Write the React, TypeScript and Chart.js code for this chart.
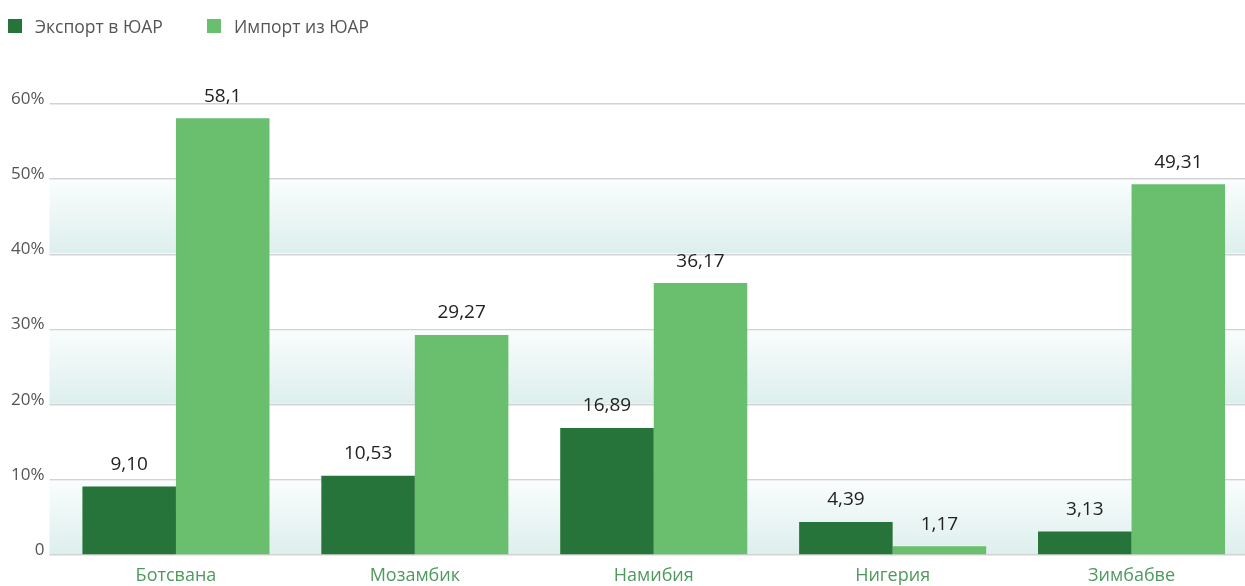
import React, { useEffect, useRef } from "react";
import { Chart, registerables } from "chart.js";

Chart.register(...registerables);

const categories = ["Ботсвана", "Мозамбик", "Намибия", "Нигерия", "Зимбабве"];
const exportValues = [9.1, 10.53, 16.89, 4.39, 3.13];
const importValues = [58.1, 29.27, 36.17, 1.17, 49.31];
const exportLabels = ["9,10", "10,53", "16,89", "4,39", "3,13"];
const importLabels = ["58,1", "29,27", "36,17", "1,17", "49,31"];
const seriesNames = ["Экспорт в ЮАР", "Импорт из ЮАР"];
const bandRanges = [
  [0, 10],
  [20, 30],
  [40, 50],
];

const DARK = "#27743a";
const LIGHT = "#6abf6f";
const FONT = "'Open Sans', sans-serif";

export default function App() {
  const ref = useRef<HTMLCanvasElement | null>(null);

  useEffect(() => {
    document.body.style.margin = "0";
    const canvas = ref.current;
    if (!canvas) return;

    const bandsPlugin = {
      id: "bands",
      beforeDatasetsDraw(chart: any) {
        const { ctx, chartArea } = chart;
        const y = chart.scales.y;
        ctx.save();
        bandRanges.forEach(([lo, hi]) => {
          const top = y.getPixelForValue(hi);
          const bottom = y.getPixelForValue(lo);
          const g = ctx.createLinearGradient(0, top, 0, bottom);
          g.addColorStop(0, "rgba(250,253,253,1)");
          g.addColorStop(1, "rgba(220,239,237,1)");
          ctx.fillStyle = g;
          ctx.fillRect(chartArea.left - 7, top + 1, chartArea.right - chartArea.left + 7, bottom - top - 2);
        });
        ctx.restore();
      },
    };

    const labelsPlugin = {
      id: "valueLabels",
      afterDatasetsDraw(chart: any) {
        const { ctx } = chart;
        const texts = [exportLabels, importLabels];
        ctx.save();
        ctx.font = `19px ${FONT}`;
        ctx.fillStyle = "#222";
        ctx.textAlign = "center";
        ctx.textBaseline = "middle";
        chart.data.datasets.forEach((_: any, di: number) => {
          const meta = chart.getDatasetMeta(di);
          meta.data.forEach((bar: any, i: number) => {
            ctx.fillText(texts[di][i], bar.x, bar.y - 22);
          });
        });
        ctx.restore();
      },
    };

    const chart = new Chart(canvas, {
      type: "bar",
      data: {
        labels: categories,
        datasets: [
          {
            label: seriesNames[0],
            data: exportValues,
            backgroundColor: DARK,
            categoryPercentage: 0.783,
            barPercentage: 1,
          },
          {
            label: seriesNames[1],
            data: importValues,
            backgroundColor: LIGHT,
            categoryPercentage: 0.783,
            barPercentage: 1,
          },
        ],
      },
      options: {
        responsive: false,
        animation: false,
        layout: { padding: { top: 104, bottom: 1, left: 0, right: 0 } },
        plugins: {
          legend: { display: false },
          tooltip: { enabled: false },
        },
        scales: {
          x: {
            afterFit: (s: any) => {
              s.height = 30;
            },
            grid: { display: false, drawTicks: false },
            border: { display: false },
            ticks: {
              color: "#4e9a5d",
              padding: 10,
              font: { family: FONT, size: 18 },
            },
          },
          y: {
            min: 0,
            max: 60,
            afterFit: (s: any) => {
              s.width = 56.5;
            },
            border: { display: false },
            grid: {
              color: "#d3d3d3",
              lineWidth: 1.5,
              tickLength: 7,
            },
            ticks: {
              stepSize: 10,
              padding: 5,
              labelOffset: -5,
              color: "#555",
              font: { family: FONT, size: 17 },
              callback: (v: any) => (v === 0 ? "0" : `${v}%`),
            },
          },
        },
      },
      plugins: [bandsPlugin, labelsPlugin],
    });

    return () => chart.destroy();
  }, []);

  const legendItem = (color: string, text: string, left: number) => (
    <div
      style={{
        position: "absolute",
        left,
        top: 14,
        display: "flex",
        alignItems: "center",
        fontFamily: FONT,
        fontSize: 17.5,
        color: "#555",
        whiteSpace: "nowrap",
      }}
    >
      <span style={{ width: 14, height: 14, background: color, display: "inline-block", marginRight: 13 }} />
      <span>{text}</span>
    </div>
  );

  return (
    <div style={{ position: "relative", width: 1245, height: 586, overflow: "hidden", background: "#fff" }}>
      {legendItem(DARK, seriesNames[0], 8)}
      {legendItem(LIGHT, seriesNames[1], 207)}
      <canvas ref={ref} width={1251} height={586} style={{ display: "block", width: 1251, height: 586 }} />
    </div>
  );
}
